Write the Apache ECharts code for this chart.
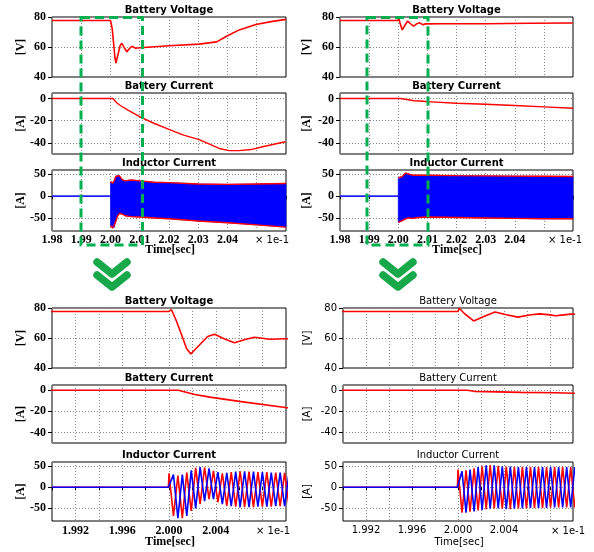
<!DOCTYPE html>
<html>
<head>
<meta charset="utf-8">
<script src="https://cdn.jsdelivr.net/npm/echarts@6/dist/echarts.min.js"></script>
<style>
  html, body { margin: 0; padding: 0; background: #fff; }
  #main { width: 594px; height: 552px; }
</style>
</head>
<body>
<div id="main"></div>
<script>
// time axis is in units of 1e-1 sec (as on the plots)

// left case: battery voltage / current
var batVoltLT = [1.98, 2.0, 2.0002, 2.0006, 2.0011, 2.0015, 2.00186, 2.0025, 2.0033, 2.0039, 2.0047, 2.0056, 2.0065, 2.0073, 2.0086, 2.0101, 2.0200, 2.0303, 2.0363, 2.0400, 2.0440, 2.0497, 2.0554, 2.0600];
var batVoltL = [77.7, 77.7, 79.0, 72.0, 61.7, 53.0, 49.3, 54.5, 61.0, 62.5, 59.5, 56.8, 59.0, 60.5, 59.2, 59.5, 60.8, 61.9, 63.4, 67.5, 71.4, 75.0, 77.1, 78.4];
var batCurLT = [1.98, 2.0008, 2.0022, 2.0035, 2.006, 2.0101, 2.015, 2.0202, 2.025, 2.0303, 2.0372, 2.0406, 2.044, 2.048, 2.052, 2.0598];
var batCurL = [0, 0, -4, -6.5, -10.5, -16.5, -22.5, -28, -33, -37, -45, -47, -47, -46, -43.5, -39];

// right case: battery voltage / current
var batVoltRT = [1.98, 2.0, 2.0001, 2.0006, 2.00136, 2.0023, 2.00322, 2.0042, 2.00522, 2.0062, 2.00708, 2.0078, 2.00851, 2.0092, 2.0098, 2.015, 2.03, 2.045, 2.06];
var batVoltR = [77.7, 77.7, 79.8, 76.0, 71.4, 74.5, 77.3, 75.5, 73.9, 75.3, 76.1, 75.6, 74.8, 75.4, 75.9, 75.5, 75.5, 75.8, 76.0];
var batCurRT = [1.98, 2.0008, 2.0014, 2.0055, 2.0085, 2.01, 2.02, 2.03, 2.04, 2.05, 2.06];
var batCurR = [0, 0, -1, -2, -2.4, -2.8, -4.3, -5.2, -6.3, -7.5, -8.8];

// inductor current before the step
var indPreT = [1.98, 2.0];
var indPre = [0, 0];

// inductor current envelope (full view)
var indEnvLT = [2.0000, 2.0003, 2.0008, 2.0013, 2.0018, 2.0024, 2.0030, 2.0040, 2.0050, 2.0070, 2.0100, 2.0150, 2.0200, 2.0300, 2.0400, 2.0500, 2.0600];
var indHiL = [33, 33, 30, 36, 45, 48, 47, 38, 35, 37, 35, 32, 31, 28, 27, 28, 29];
var indLoL = [-68, -70, -73, -72, -58, -46, -40, -41, -45, -47, -48, -50, -52, -57, -61, -66, -71];
var indEnvRT = [2.0000, 2.0004, 2.0014, 2.0025, 2.0035, 2.0050, 2.0070, 2.0100, 2.0200, 2.0300, 2.0400, 2.0500, 2.0600];
var indHiR = [42, 40, 45, 53, 51, 48, 48, 48, 47, 46.5, 46, 45.5, 45];
var indLoR = [-60, -60, -56, -52, -50, -51, -49, -48, -49, -50, -51, -52, -52];

// inductor current, two phases (zoomed view)
var indZigLT = [1.990, 1.99995, 2.00000, 2.00038, 2.00076, 2.00114, 2.00152, 2.00190, 2.00228, 2.00266, 2.00304, 2.00342, 2.00380, 2.00418, 2.00456, 2.00494, 2.00532, 2.00570, 2.00608, 2.00646, 2.00684, 2.00722, 2.00760, 2.00798, 2.00836, 2.00874, 2.00912, 2.00950, 2.00988, 2.01026];
var indRedL = [0, 0, 33, -68, 28, -73, 35, -56, 46, -40, 47, -28, 39, -35, 33, -44, 36, -46, 38, -47, 37, -47, 36, -46, 36, -46, 35, -45, 34, -45];
var indBlueL = [0, 0, 0, 30, -73, 30, -68, 40, -50, 48, -33, 45, -28, 36, -40, 34, -45, 37, -47, 38, -47, 37, -46, 36, -46, 35, -45, 35, -45, 34];
var indZigRT = [1.990, 1.99995, 2.00000, 2.00035, 2.00070, 2.00105, 2.00140, 2.00175, 2.00210, 2.00245, 2.00280, 2.00315, 2.00350, 2.00385, 2.00420, 2.00455, 2.00490, 2.00525, 2.00560, 2.00595, 2.00630, 2.00665, 2.00700, 2.00735, 2.00770, 2.00805, 2.00840, 2.00875, 2.00910, 2.00945, 2.00980, 2.01015];
var indRedR = [0, 0, 42, -60, 40, -58, 45, -55, 50, -52, 53, -50, 51, -51, 49, -52, 48, -50, 48, -50, 48, -49, 48, -49, 48, -48, 48, -48, 48, -48, 48, -48];
var indBlueR = [0, 0, 0, 38, -60, 42, -57, 48, -54, 52, -51, 52, -50, 50, -52, 49, -51, 48, -50, 48, -49, 48, -49, 48, -49, 48, -48, 48, -48, 48, -48, 48];

// ticks
var voltTicks = [40, 60, 80];
var curTicks = [-40, -20, 0];
var indTicks = [-50, 0, 50];
var xTopTicks = [1.98, 1.99, 2.00, 2.01, 2.02, 2.03, 2.04, 2.05, 2.06];
var xTopLabels = [1.98, 1.99, 2.00, 2.01, 2.02, 2.03, 2.04];
var xZoomTicks = [1.990, 1.992, 1.994, 1.996, 1.998, 2.000, 2.002, 2.004, 2.006, 2.008, 2.010];
var xZoomLabels = [1.992, 1.996, 2.000, 2.004];

var titles = ['Battery Voltage', 'Battery Current', 'Inductor Current'];
var units = ['[V]', '[A]', '[A]'];

var dom = document.getElementById('main');
var myChart = echarts.init(dom);

var boldTick = { fontFamily: 'Liberation Serif', fontWeight: 'bold', fontSize: 12, color: '#000' };
var plainTick = { fontFamily: 'DejaVu Sans', fontWeight: 'normal', fontSize: 10, color: '#000' };

var panels = [
    { left: 52, width: 234, tops: [17, 93, 170], hts: [60, 61, 61], zoom: false, plain: false, xName: [170, 250], mult: [272, 240], yName: 21 },
    { left: 340, width: 233, tops: [17, 93, 170], hts: [60, 61, 61], zoom: false, plain: false, xName: [457, 250], mult: [565, 240], yName: 307 },
    { left: 52, width: 234, tops: [308, 385, 462], hts: [60, 58, 59], zoom: true, plain: false, xName: [170, 542], mult: [273, 531], yName: 21 },
    { left: 343, width: 230, tops: [308, 385, 462], hts: [60, 58, 59], zoom: true, plain: true, xName: [459, 542], mult: [568, 531], yName: 307 }
];
var yRanges = [[40, 80], [-50, 5], [-80, 60]];
var yTickSets = [voltTicks, curTicks, indTicks];

function pairs(t, v) {
    return t.map(function (x, i) { return [x, v[i]]; });
}

function bandRender(tArr, hiArr, loArr) {
    return function (params, api) {
        if (params.dataIndex !== 0) return null;
        var pts = [];
        for (var i = 0; i < tArr.length; i++) pts.push(api.coord([tArr[i], hiArr[i]]));
        for (var j = tArr.length - 1; j >= 0; j--) pts.push(api.coord([tArr[j], loArr[j]]));
        return { type: 'polygon', shape: { points: pts }, style: { fill: '#0000ff', stroke: '#0000ff', lineWidth: 0.6 } };
    };
}

var grids = [], xAxes = [], yAxes = [], series = [], graphics = [];

panels.forEach(function (p) {
    var tick = p.plain ? plainTick : boldTick;
    var titleFont = (p.plain ? '' : 'bold ') + '10px "DejaVu Sans"';
    var nameFont = p.plain ? '10px "DejaVu Sans"' : 'bold 12px "Liberation Serif"';
    for (var r = 0; r < 3; r++) {
        grids.push({ left: p.left, top: p.tops[r], width: p.width, height: p.hts[r], show: true, borderColor: '#000', borderWidth: 1, backgroundColor: '#fff' });
        var gi = grids.length - 1;
        xAxes.push({
            type: 'value', gridIndex: gi,
            min: p.zoom ? 1.990 : 1.98, max: p.zoom ? 2.010 : 2.06,
            axisLine: { show: false },
            axisTick: { show: r === 2, length: 3, customValues: p.zoom ? xZoomTicks : xTopTicks, lineStyle: { color: '#000' } },
            axisLabel: {
                show: r === 2, customValues: p.zoom ? xZoomLabels : xTopLabels,
                margin: p.zoom ? 4 : 3,
                formatter: p.zoom ? function (v) { return v.toFixed(3); } : function (v) { return v.toFixed(2); },
                fontFamily: tick.fontFamily, fontWeight: tick.fontWeight, fontSize: tick.fontSize, color: '#000'
            },
            splitLine: { show: true, lineStyle: { type: [1, 2], color: '#888' } }
        });
        yAxes.push({
            type: 'value', gridIndex: gi, min: yRanges[r][0], max: yRanges[r][1],
            axisLine: { show: false },
            axisTick: { show: true, length: 4, customValues: yTickSets[r], lineStyle: { color: '#000' } },
            axisLabel: { customValues: yTickSets[r], margin: 6, fontFamily: tick.fontFamily, fontWeight: tick.fontWeight, fontSize: tick.fontSize, color: '#000' },
            splitLine: { show: true, lineStyle: { type: [1, 2], color: '#888' } }
        });
        graphics.push({
            type: 'text', x: p.left + p.width / 2, y: p.tops[r] - 6.5, z: 50,
            style: { text: titles[r], font: titleFont, fill: '#000', align: 'center', verticalAlign: 'middle', textAlign: 'center', textVerticalAlign: 'middle' }
        });
        graphics.push({
            type: 'text', x: p.yName, y: p.tops[r] + p.hts[r] / 2, rotation: Math.PI / 2, z: 50,
            style: { text: units[r], font: nameFont, fill: '#000', align: 'center', verticalAlign: 'middle', textAlign: 'center', textVerticalAlign: 'middle' }
        });
    }
    graphics.push({
        type: 'text', x: p.xName[0], y: p.xName[1], z: 50,
        style: { text: 'Time[sec]', font: nameFont, fill: '#000', align: 'center', verticalAlign: 'middle', textAlign: 'center', textVerticalAlign: 'middle' }
    });
    graphics.push({
        type: 'text', x: p.mult[0], y: p.mult[1], z: 50,
        style: { text: '\u00d7 1e-1', font: '10px "DejaVu Sans"', fill: '#000', align: 'center', verticalAlign: 'middle', textAlign: 'center', textVerticalAlign: 'middle' }
    });
});

function line(gi, t, v, color, w) {
    series.push({
        type: 'line', xAxisIndex: gi, yAxisIndex: gi, data: pairs(t, v),
        showSymbol: false, symbol: 'none', animation: false, clip: true,
        lineStyle: { color: color, width: w }
    });
}
function band(gi, t, hi, lo) {
    line(gi, t, hi, '#ff0000', 1.4);
    line(gi, t, lo, '#ff0000', 1.4);
    series.push({
        type: 'custom', xAxisIndex: gi, yAxisIndex: gi, animation: false,
        data: t.map(function (x, i) { return [x, hi[i], lo[i]]; }),
        encode: { x: 0, y: [1, 2] },
        renderItem: bandRender(t, hi, lo)
    });
}

// top left
line(0, batVoltLT, batVoltL, '#ff0000', 1.6);
line(1, batCurLT, batCurL, '#ff0000', 1.4);
band(2, indEnvLT, indHiL, indLoL);
line(2, indPreT, indPre, '#2020ff', 1.6);
// top right
line(3, batVoltRT, batVoltR, '#ff0000', 1.6);
line(4, batCurRT, batCurR, '#ff0000', 1.4);
band(5, indEnvRT, indHiR, indLoR);
line(5, indPreT, indPre, '#2020ff', 1.6);
// bottom left (zoom)
line(6, batVoltLT, batVoltL, '#ff0000', 1.6);
line(7, batCurLT, batCurL, '#ff0000', 1.6);
line(8, indZigLT, indRedL, '#ff0000', 1.6);
line(8, indZigLT, indBlueL, '#0000ff', 1.6);
// bottom right (zoom)
line(9, batVoltRT, batVoltR, '#ff0000', 1.6);
line(10, batCurRT, batCurR, '#ff0000', 1.6);
line(11, indZigRT, indRedR, '#ff0000', 1.6);
line(11, indZigRT, indBlueR, '#0000ff', 1.6);

// zoom boxes and arrows
var green = '#00b050';
[[81, 142.5], [367, 428]].forEach(function (xs) {
    graphics.push({
        type: 'rect', z: 100,
        shape: { x: xs[0], y: 17.5, width: xs[1] - xs[0], height: 227.5 },
        style: { fill: 'none', stroke: green, lineWidth: 3, lineDash: [9, 5] }
    });
});
[112, 398].forEach(function (cx) {
    [262, 275].forEach(function (y0) {
        graphics.push({
            type: 'polyline', z: 100,
            shape: { points: [[cx - 15, y0], [cx, y0 + 12], [cx + 15, y0]] },
            style: { fill: 'none', stroke: '#17a84a', lineWidth: 7.5, lineCap: 'round', lineJoin: 'round' }
        });
    });
});

var option = {
    backgroundColor: '#fff',
    animation: false,
    grid: grids,
    xAxis: xAxes,
    yAxis: yAxes,
    series: series,
    graphic: { elements: graphics }
};
myChart.setOption(option, true);
</script>
</body>
</html>
